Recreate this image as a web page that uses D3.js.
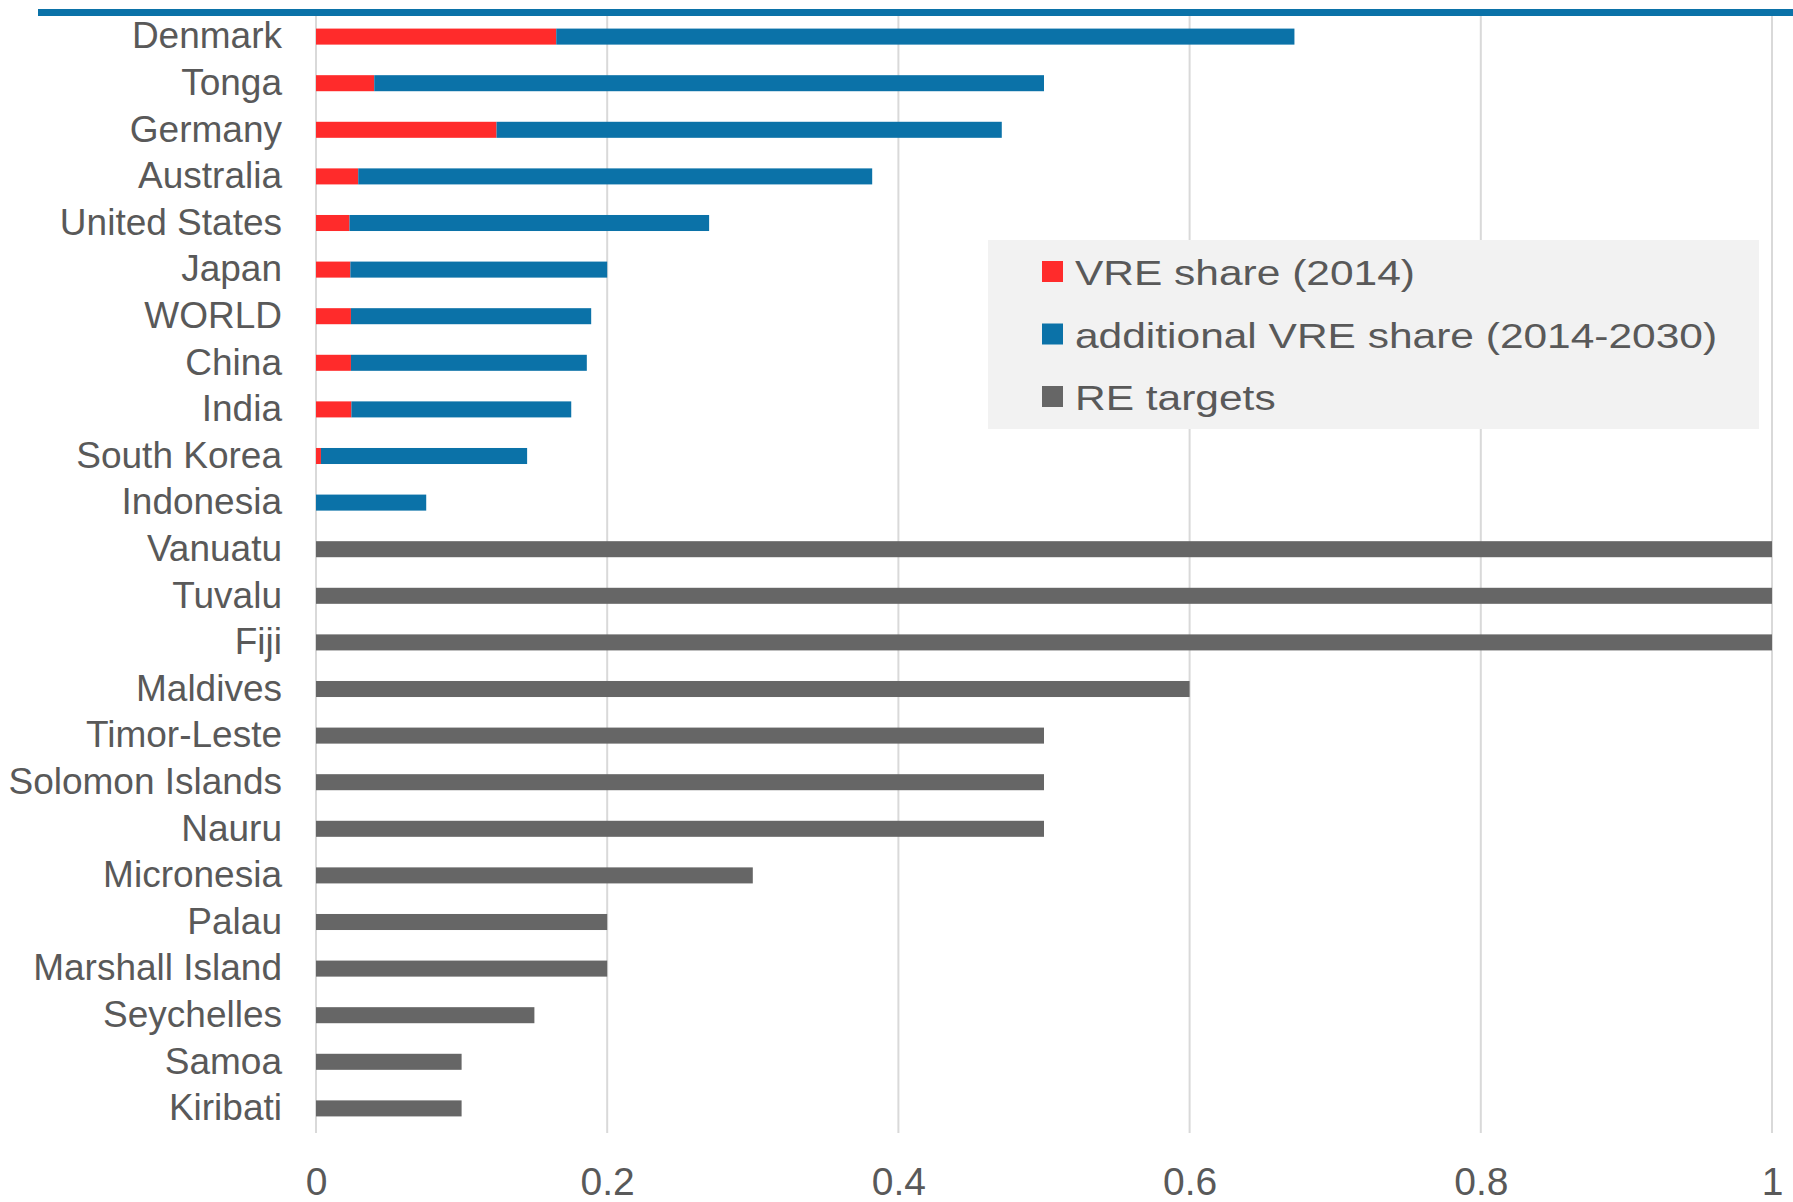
<!DOCTYPE html>
<html>
<head>
<meta charset="utf-8">
<script src="https://cdn.jsdelivr.net/npm/d3@7"></script>
<style>
  html, body { margin: 0; padding: 0; background: #ffffff; }
  svg { display: block; font-family: "Liberation Sans", Arial, sans-serif; }
</style>
</head>
<body>
<svg id="chart" width="1793" height="1202"></svg>
<script>
const countries = ["Denmark","Tonga","Germany","Australia","United States","Japan","WORLD","China","India","South Korea","Indonesia","Vanuatu","Tuvalu","Fiji","Maldives","Timor-Leste","Solomon Islands","Nauru","Micronesia","Palau","Marshall Island","Seychelles","Samoa","Kiribati"];
const vreShare2014 = [0.165,0.040,0.124,0.029,0.023,0.0236,0.024,0.024,0.0243,0.0034,0,0,0,0,0,0,0,0,0,0,0,0,0,0];
const additionalVre = [0.507,0.460,0.347,0.353,0.247,0.1764,0.165,0.162,0.151,0.1416,0.0757,0,0,0,0,0,0,0,0,0,0,0,0,0];
const reTargets = [0,0,0,0,0,0,0,0,0,0,0,1,1,1,0.6,0.5,0.5,0.5,0.3,0.2,0.2,0.15,0.1,0.1];
const xTicks = [0,0.2,0.4,0.6,0.8,1];
const seriesNames = ["VRE share (2014)","additional VRE share (2014-2030)","RE targets"];
const seriesColors = ["#ff2b2b","#0b72a8","#666666"];

const svg = d3.select("#chart");
const x = d3.scaleLinear().domain([0,1]).range([316,1772]);
const y = d3.scaleBand().domain(countries).range([13.3,1131.7]).paddingInner(0.656).paddingOuter(0.328);

// gridlines
svg.append("g").selectAll("line").data(xTicks).join("line")
  .attr("x1", d => x(d)).attr("x2", d => x(d))
  .attr("y1", 14).attr("y2", 1133)
  .attr("stroke", "#d9d9d9").attr("stroke-width", 2);

// top line
svg.append("line").attr("x1", 38).attr("x2", 1793).attr("y1", 12.6).attr("y2", 12.6)
  .attr("stroke", "#0b72a8").attr("stroke-width", 7);

// stacked data
const rows = countries.map((c,i) => ({country:c, s0:vreShare2014[i], s1:additionalVre[i], s2:reTargets[i]}));
const stack = d3.stack().keys(["s0","s1","s2"])(rows);

svg.append("g").selectAll("g").data(stack).join("g")
  .attr("fill", (d,i) => seriesColors[i])
  .selectAll("rect").data(d => d.filter(p => p[1] - p[0] > 0)).join("rect")
  .attr("x", d => x(d[0]))
  .attr("width", d => x(d[1]) - x(d[0]))
  .attr("y", d => y(d.data.country))
  .attr("height", y.bandwidth());

// y labels
const yAxis = svg.append("g").attr("transform", "translate(316,0)")
  .call(d3.axisLeft(y).tickSize(0).tickPadding(34));
yAxis.select(".domain").remove();
yAxis.selectAll("text").attr("font-size", 37).attr("fill", "#595959")
  .attr("font-family", "Liberation Sans, Arial, sans-serif");

// x labels
const xAxis = svg.append("g").attr("transform", "translate(0,1195)")
  .call(d3.axisBottom(x).tickValues(xTicks).tickFormat(d3.format("")).tickSize(0).tickPadding(0));
xAxis.select(".domain").remove();
xAxis.selectAll("text").attr("font-size", 39).attr("fill", "#595959").attr("dy", 0)
  .attr("font-family", "Liberation Sans, Arial, sans-serif");

// legend
const lg = svg.append("g");
lg.append("rect").attr("x", 988).attr("y", 240).attr("width", 771).attr("height", 189).attr("fill", "#f2f2f2");
const lgBase = [285, 347.5, 410];
seriesNames.forEach((name, i) => {
  lg.append("rect").attr("x", 1042).attr("y", lgBase[i] - 24).attr("width", 21).attr("height", 21)
    .attr("fill", seriesColors[i]);
  lg.append("text").attr("transform", `translate(1075,${lgBase[i]}) scale(1.18,1)`)
    .attr("font-size", 36).attr("fill", "#595959").text(name);
});
</script>
</body>
</html>
